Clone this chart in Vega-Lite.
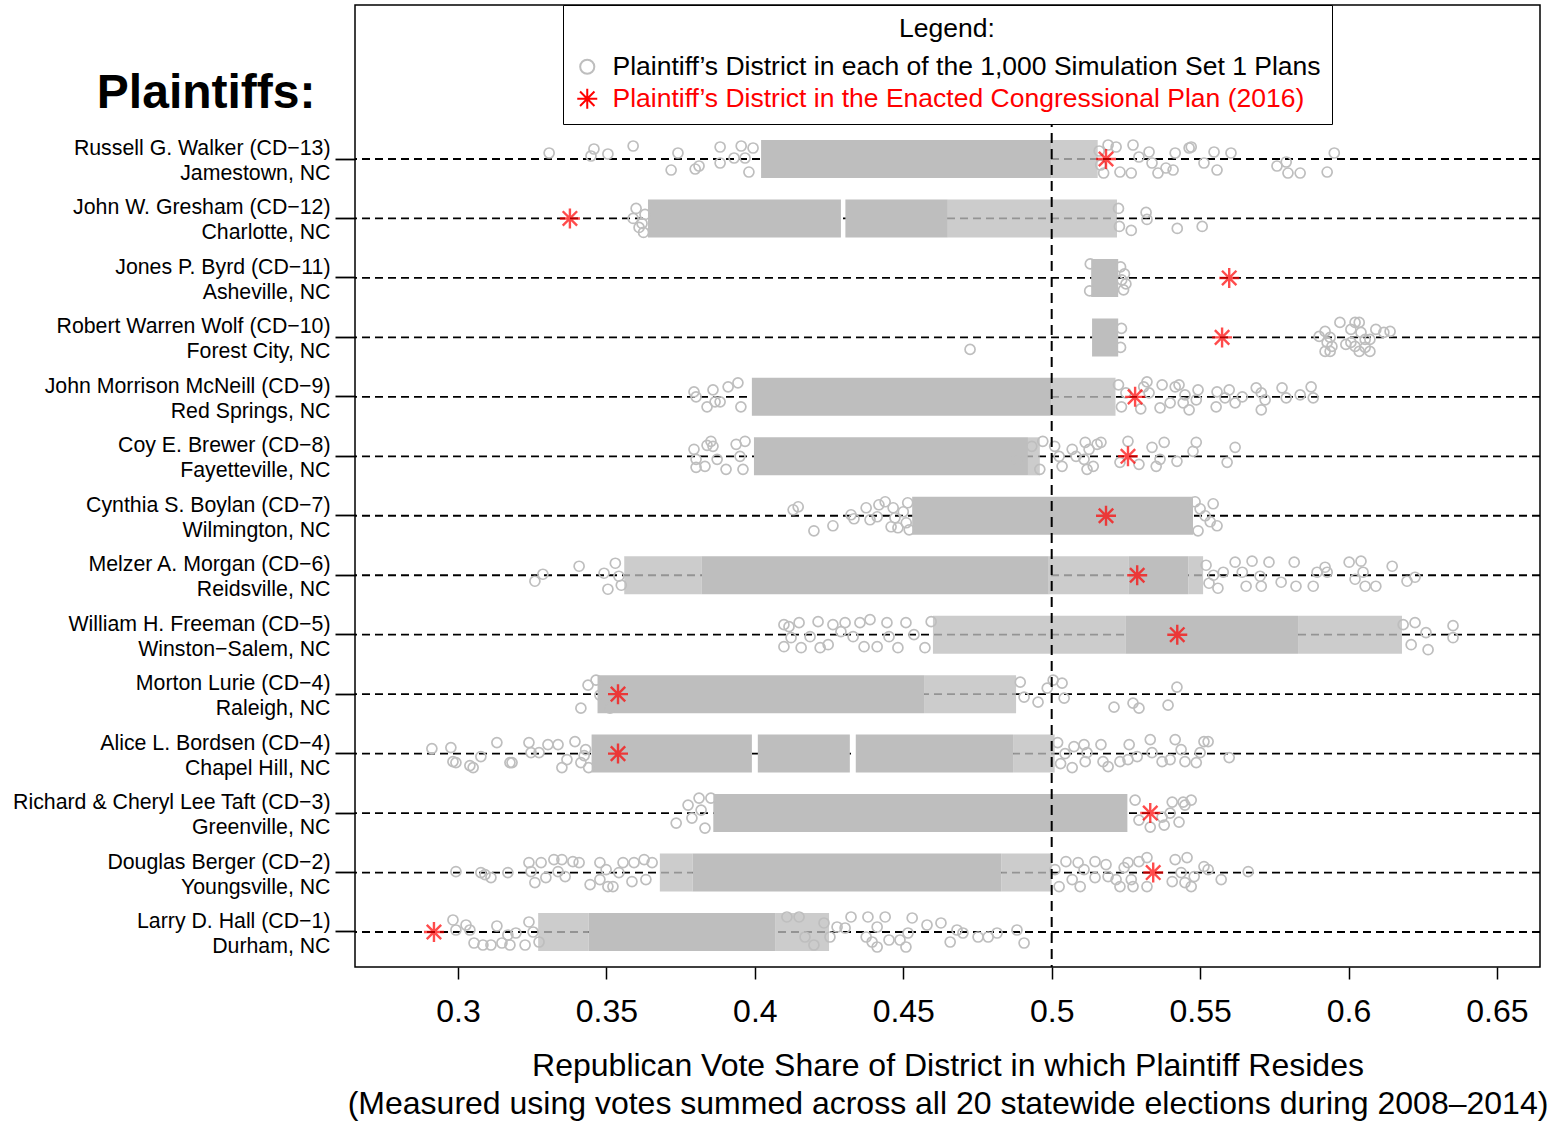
{
"$schema": "https://vega.github.io/schema/vega-lite/v6.json",
"width": 1185, "height": 962,
"autosize": {"type": "none"},
"padding": {"left": 355, "top": 5, "right": 11, "bottom": 155},
"background": "white",
"config": {
  "font": "Liberation Sans",
  "view": {"stroke": "black", "strokeWidth": 1.5},
  "axisY": {"domain": false, "tickSize": 20, "tickWidth": 1.8, "tickColor": "black", "labelFontSize": 21.3, "labelLineHeight": 25, "labelPadding": 5, "labelOffset": -10, "labelColor": "black", "labelOverlap": false, "labelBound": false, "labelLimit": 0, "grid": false},
  "axisX": {"domain": false, "tickSize": 12, "tickWidth": 1.5, "tickColor": "black", "labelFontSize": 32, "labelPadding": 17, "labelColor": "black", "titleFontSize": 32, "titleFontWeight": "normal", "titleColor": "black", "titleLineHeight": 38, "titlePadding": 23, "grid": false, "labelOverlap": false}
},
"datasets": {
"rows": [{"k":1},{"k":2},{"k":3},{"k":4},{"k":5},{"k":6},{"k":7},{"k":8},{"k":9},{"k":10},{"k":11},{"k":12},{"k":13},{"k":14}],
"bands": [
{"k":1,"a":0.4021,"b":0.4998,"d":"D"},{"k":1,"a":0.4998,"b":0.5155,"d":"M"},
{"k":2,"a":0.3640,"b":0.4290,"d":"D"},{"k":2,"a":0.4305,"b":0.4650,"d":"D"},{"k":2,"a":0.4650,"b":0.5220,"d":"M"},
{"k":3,"a":0.5133,"b":0.5224,"d":"D"},
{"k":4,"a":0.5136,"b":0.5224,"d":"D"},
{"k":5,"a":0.3990,"b":0.4998,"d":"D"},{"k":5,"a":0.4998,"b":0.5215,"d":"M"},
{"k":6,"a":0.3997,"b":0.4920,"d":"D"},{"k":6,"a":0.4920,"b":0.4960,"d":"M"},
{"k":7,"a":0.4530,"b":0.5476,"d":"D"},
{"k":8,"a":0.3560,"b":0.3820,"d":"M"},{"k":8,"a":0.3820,"b":0.4990,"d":"D"},{"k":8,"a":0.4990,"b":0.5260,"d":"M"},{"k":8,"a":0.5260,"b":0.5460,"d":"D"},{"k":8,"a":0.5460,"b":0.5510,"d":"M"},
{"k":9,"a":0.4600,"b":0.5250,"d":"M"},{"k":9,"a":0.5250,"b":0.5830,"d":"D"},{"k":9,"a":0.5830,"b":0.6180,"d":"M"},
{"k":10,"a":0.3470,"b":0.4570,"d":"D"},{"k":10,"a":0.4570,"b":0.4880,"d":"M"},
{"k":11,"a":0.3450,"b":0.3990,"d":"D"},{"k":11,"a":0.4010,"b":0.4320,"d":"D"},{"k":11,"a":0.4340,"b":0.4870,"d":"D"},{"k":11,"a":0.4870,"b":0.5010,"d":"M"},
{"k":12,"a":0.3860,"b":0.5255,"d":"D"},
{"k":13,"a":0.3680,"b":0.3790,"d":"M"},{"k":13,"a":0.3790,"b":0.4830,"d":"D"},{"k":13,"a":0.4830,"b":0.5000,"d":"M"},
{"k":14,"a":0.3270,"b":0.3440,"d":"M"},{"k":14,"a":0.3440,"b":0.4070,"d":"D"},{"k":14,"a":0.4070,"b":0.4250,"d":"M"}
],
"enacted": [
{"k":1,"v":0.5183},{"k":2,"v":0.3377},{"k":3,"v":0.5598},{"k":4,"v":0.5574},{"k":5,"v":0.5281},{"k":6,"v":0.5257},{"k":7,"v":0.5183},{"k":8,"v":0.5288},{"k":9,"v":0.5423},{"k":10,"v":0.3539},{"k":11,"v":0.3539},{"k":12,"v":0.5332},{"k":13,"v":0.5342},{"k":14,"v":0.2919}
],
"pts": [
{"k":1,"v":0.3307,"j":-0.3},{"k":1,"v":0.3448,"j":-0.15},{"k":1,"v":0.3458,"j":-0.5},{"k":1,"v":0.3505,"j":-0.25},{"k":1,"v":0.3590,"j":-0.65},{"k":1,"v":0.3741,"j":-0.3},{"k":1,"v":0.3718,"j":0.55},{"k":1,"v":0.3799,"j":0.5},{"k":1,"v":0.3812,"j":0.35},{"k":1,"v":0.3883,"j":-0.6},{"k":1,"v":0.3883,"j":0.2},{"k":1,"v":0.3930,"j":-0.05},{"k":1,"v":0.3954,"j":-0.65},{"k":1,"v":0.3967,"j":-0.05},{"k":1,"v":0.3994,"j":-0.55},{"k":1,"v":0.3980,"j":0.65},
{"k":1,"v":0.5160,"j":-0.4},{"k":1,"v":0.5165,"j":0.3},{"k":1,"v":0.5175,"j":0.7},{"k":1,"v":0.5190,"j":-0.7},
{"k":1,"v":0.5217,"j":-0.6},{"k":1,"v":0.5230,"j":0.65},{"k":1,"v":0.5268,"j":0.7},{"k":1,"v":0.5274,"j":-0.7},{"k":1,"v":0.5294,"j":-0.1},{"k":1,"v":0.5328,"j":-0.35},{"k":1,"v":0.5338,"j":0.2},{"k":1,"v":0.5358,"j":0.7},{"k":1,"v":0.5385,"j":0.45},{"k":1,"v":0.5409,"j":0.55},{"k":1,"v":0.5416,"j":-0.3},{"k":1,"v":0.5463,"j":-0.55},{"k":1,"v":0.5470,"j":-0.6},{"k":1,"v":0.5513,"j":0.2},{"k":1,"v":0.5547,"j":-0.35},{"k":1,"v":0.5557,"j":0.55},{"k":1,"v":0.5604,"j":-0.3},{"k":1,"v":0.5759,"j":0.35},{"k":1,"v":0.5790,"j":0.15},{"k":1,"v":0.5796,"j":0.7},{"k":1,"v":0.5837,"j":0.7},{"k":1,"v":0.5928,"j":0.65},{"k":1,"v":0.5952,"j":-0.3},
{"k":2,"v":0.3590,"j":0.0},{"k":2,"v":0.3600,"j":-0.5},{"k":2,"v":0.3610,"j":0.45},{"k":2,"v":0.3625,"j":0.7},{"k":2,"v":0.3630,"j":-0.2},{"k":2,"v":0.3620,"j":0.25},
{"k":2,"v":0.5225,"j":-0.5},{"k":2,"v":0.5228,"j":0.4},{"k":2,"v":0.5268,"j":0.6},{"k":2,"v":0.5318,"j":-0.3},{"k":2,"v":0.5321,"j":0.05},{"k":2,"v":0.5423,"j":0.5},{"k":2,"v":0.5507,"j":0.4},
{"k":3,"v":0.5232,"j":-0.55},{"k":3,"v":0.5245,"j":-0.2},{"k":3,"v":0.5250,"j":0.3},{"k":3,"v":0.5242,"j":0.6},{"k":3,"v":0.5236,"j":0.1},{"k":3,"v":0.5130,"j":-0.7},{"k":3,"v":0.5128,"j":0.65},
{"k":4,"v":0.4725,"j":0.6},{"k":4,"v":0.5235,"j":-0.45},{"k":4,"v":0.5232,"j":0.5},
{"k":4,"v":0.5901,"j":-0.05},{"k":4,"v":0.5921,"j":-0.3},{"k":4,"v":0.5928,"j":0.25},{"k":4,"v":0.5921,"j":0.7},{"k":4,"v":0.5938,"j":0.7},{"k":4,"v":0.5944,"j":0.45},{"k":4,"v":0.5938,"j":0},{"k":4,"v":0.5971,"j":-0.75},{"k":4,"v":0.5991,"j":0.35},{"k":4,"v":0.6008,"j":-0.4},{"k":4,"v":0.6022,"j":-0.75},{"k":4,"v":0.6036,"j":-0.75},{"k":4,"v":0.6042,"j":-0.25},{"k":4,"v":0.6022,"j":0.45},{"k":4,"v":0.6056,"j":0.5},{"k":4,"v":0.6072,"j":0.1},{"k":4,"v":0.6072,"j":0.7},{"k":4,"v":0.6092,"j":-0.4},{"k":4,"v":0.6119,"j":-0.25},{"k":4,"v":0.6140,"j":-0.3},{"k":4,"v":0.6036,"j":0.7},{"k":4,"v":0.6008,"j":0.25},{"k":4,"v":0.6056,"j":0.1},
{"k":5,"v":0.3795,"j":-0.25},{"k":5,"v":0.3802,"j":0},{"k":5,"v":0.3839,"j":0.5},{"k":5,"v":0.3859,"j":-0.35},{"k":5,"v":0.3866,"j":0.25},{"k":5,"v":0.3883,"j":0.25},{"k":5,"v":0.3910,"j":-0.5},{"k":5,"v":0.3943,"j":-0.7},{"k":5,"v":0.3953,"j":0.5},
{"k":5,"v":0.5225,"j":-0.6},{"k":5,"v":0.5235,"j":0.5},{"k":5,"v":0.5250,"j":-0.2},{"k":5,"v":0.5300,"j":0.6},{"k":5,"v":0.5310,"j":-0.5},
{"k":5,"v":0.5321,"j":-0.75},{"k":5,"v":0.5328,"j":-0.2},{"k":5,"v":0.5365,"j":0.55},{"k":5,"v":0.5372,"j":-0.6},{"k":5,"v":0.5399,"j":0.3},{"k":5,"v":0.5416,"j":-0.5},{"k":5,"v":0.5429,"j":-0.6},{"k":5,"v":0.5443,"j":0.3},{"k":5,"v":0.5449,"j":-0.1},{"k":5,"v":0.5463,"j":0.65},{"k":5,"v":0.5487,"j":0.15},{"k":5,"v":0.5493,"j":-0.35},{"k":5,"v":0.5554,"j":0.5},{"k":5,"v":0.5557,"j":-0.25},{"k":5,"v":0.5584,"j":0.05},{"k":5,"v":0.5598,"j":-0.35},{"k":5,"v":0.5618,"j":0.3},{"k":5,"v":0.5642,"j":0},{"k":5,"v":0.5689,"j":-0.45},{"k":5,"v":0.5706,"j":-0.2},{"k":5,"v":0.5719,"j":0.15},{"k":5,"v":0.5706,"j":0.65},{"k":5,"v":0.5776,"j":-0.45},{"k":5,"v":0.5790,"j":0.05},{"k":5,"v":0.5837,"j":-0.1},{"k":5,"v":0.5874,"j":-0.5},{"k":5,"v":0.5881,"j":0.05},
{"k":6,"v":0.3795,"j":-0.35},{"k":6,"v":0.3802,"j":0.15},{"k":6,"v":0.3802,"j":0.55},{"k":6,"v":0.3832,"j":0.5},{"k":6,"v":0.3839,"j":-0.55},{"k":6,"v":0.3852,"j":-0.75},{"k":6,"v":0.3859,"j":-0.5},{"k":6,"v":0.3873,"j":0.15},{"k":6,"v":0.3903,"j":0.65},{"k":6,"v":0.3937,"j":-0.6},{"k":6,"v":0.3950,"j":0},{"k":6,"v":0.3960,"j":0.65},{"k":6,"v":0.3967,"j":-0.75},
{"k":6,"v":0.4883,"j":0.15},{"k":6,"v":0.4933,"j":-0.5},{"k":6,"v":0.4970,"j":-0.75},{"k":6,"v":0.4960,"j":0.65},{"k":6,"v":0.5010,"j":-0.5},{"k":6,"v":0.5025,"j":0},{"k":6,"v":0.5035,"j":0.5},{"k":6,"v":0.5069,"j":-0.35},{"k":6,"v":0.5082,"j":0},{"k":6,"v":0.5113,"j":-0.7},{"k":6,"v":0.5126,"j":-0.35},{"k":6,"v":0.5109,"j":0.15},{"k":6,"v":0.5119,"j":0.65},{"k":6,"v":0.5140,"j":0.5},{"k":6,"v":0.5153,"j":-0.6},{"k":6,"v":0.5166,"j":-0.7},{"k":6,"v":0.5257,"j":-0.75},{"k":6,"v":0.5230,"j":0.3},{"k":6,"v":0.5294,"j":0.4},{"k":6,"v":0.5338,"j":-0.45},{"k":6,"v":0.5352,"j":0.5},{"k":6,"v":0.5365,"j":0.15},{"k":6,"v":0.5379,"j":-0.7},{"k":6,"v":0.5422,"j":0.25},{"k":6,"v":0.5476,"j":-0.25},{"k":6,"v":0.5487,"j":-0.7},{"k":6,"v":0.5591,"j":0.3},{"k":6,"v":0.5618,"j":-0.45},
{"k":7,"v":0.4129,"j":-0.3},{"k":7,"v":0.4146,"j":-0.45},{"k":7,"v":0.4199,"j":0.75},{"k":7,"v":0.4263,"j":0.5},{"k":7,"v":0.4324,"j":-0.05},{"k":7,"v":0.4334,"j":0.15},{"k":7,"v":0.4375,"j":-0.4},{"k":7,"v":0.4388,"j":0.2},{"k":7,"v":0.4412,"j":0.05},{"k":7,"v":0.4418,"j":-0.55},{"k":7,"v":0.4439,"j":-0.7},{"k":7,"v":0.4466,"j":-0.4},{"k":7,"v":0.4472,"j":0.1},{"k":7,"v":0.4459,"j":0.55},{"k":7,"v":0.4482,"j":0.6},{"k":7,"v":0.4500,"j":-0.2},{"k":7,"v":0.4510,"j":0.35},{"k":7,"v":0.4515,"j":-0.65},{"k":7,"v":0.4520,"j":0.7},
{"k":7,"v":0.5500,"j":-0.35},{"k":7,"v":0.5517,"j":0},{"k":7,"v":0.5534,"j":0.3},{"k":7,"v":0.5544,"j":-0.6},{"k":7,"v":0.5557,"j":0.5},{"k":7,"v":0.5493,"j":0.75},{"k":7,"v":0.5483,"j":-0.7},
{"k":8,"v":0.3259,"j":0.3},{"k":8,"v":0.3286,"j":-0.05},{"k":8,"v":0.3408,"j":-0.45},{"k":8,"v":0.3492,"j":-0.1},{"k":8,"v":0.3505,"j":0.7},{"k":8,"v":0.3542,"j":0.05},{"k":8,"v":0.3530,"j":-0.6},{"k":8,"v":0.3550,"j":0.5},
{"k":8,"v":0.5520,"j":-0.5},{"k":8,"v":0.5530,"j":0.4},{"k":8,"v":0.5545,"j":0.0},{"k":8,"v":0.5560,"j":0.65},
{"k":8,"v":0.5578,"j":-0.15},{"k":8,"v":0.5618,"j":-0.65},{"k":8,"v":0.5642,"j":-0.15},{"k":8,"v":0.5655,"j":0.55},{"k":8,"v":0.5675,"j":-0.7},{"k":8,"v":0.5702,"j":0.05},{"k":8,"v":0.5706,"j":0.55},{"k":8,"v":0.5732,"j":-0.65},{"k":8,"v":0.5773,"j":0.35},{"k":8,"v":0.5817,"j":-0.65},{"k":8,"v":0.5823,"j":0.55},{"k":8,"v":0.5881,"j":0.55},{"k":8,"v":0.5894,"j":-0.15},{"k":8,"v":0.5921,"j":-0.4},{"k":8,"v":0.5928,"j":-0.15},{"k":8,"v":0.6002,"j":-0.65},{"k":8,"v":0.6042,"j":-0.7},{"k":8,"v":0.6022,"j":0.2},{"k":8,"v":0.6049,"j":-0.15},{"k":8,"v":0.6056,"j":0.55},{"k":8,"v":0.6092,"j":0.55},{"k":8,"v":0.6147,"j":-0.45},{"k":8,"v":0.6197,"j":0.3},{"k":8,"v":0.6224,"j":0.1},
{"k":9,"v":0.4098,"j":-0.5},{"k":9,"v":0.4115,"j":-0.4},{"k":9,"v":0.4149,"j":-0.6},{"k":9,"v":0.4098,"j":0.6},{"k":9,"v":0.4122,"j":0.15},{"k":9,"v":0.4156,"j":0.65},{"k":9,"v":0.4186,"j":0.1},{"k":9,"v":0.4213,"j":-0.65},{"k":9,"v":0.4220,"j":0.65},{"k":9,"v":0.4247,"j":0.5},{"k":9,"v":0.4263,"j":-0.5},{"k":9,"v":0.4290,"j":-0.15},{"k":9,"v":0.4304,"j":-0.6},{"k":9,"v":0.4331,"j":0.1},{"k":9,"v":0.4354,"j":-0.6},{"k":9,"v":0.4368,"j":0.6},{"k":9,"v":0.4388,"j":-0.75},{"k":9,"v":0.4412,"j":0.6},{"k":9,"v":0.4445,"j":-0.6},{"k":9,"v":0.4452,"j":0.1},{"k":9,"v":0.4482,"j":0.65},{"k":9,"v":0.4509,"j":-0.6},{"k":9,"v":0.4536,"j":0},{"k":9,"v":0.4573,"j":0.65},{"k":9,"v":0.4594,"j":-0.65},
{"k":9,"v":0.6184,"j":-0.5},{"k":9,"v":0.6211,"j":0.5},{"k":9,"v":0.6224,"j":-0.6},{"k":9,"v":0.6261,"j":-0.1},{"k":9,"v":0.6268,"j":0.75},{"k":9,"v":0.6352,"j":-0.45},{"k":9,"v":0.6352,"j":0.15},
{"k":10,"v":0.3414,"j":0.7},{"k":10,"v":0.3438,"j":-0.45},{"k":10,"v":0.3465,"j":-0.7},{"k":10,"v":0.3478,"j":0.05},{"k":10,"v":0.3512,"j":0.7},
{"k":10,"v":0.4894,"j":-0.6},{"k":10,"v":0.4907,"j":0.15},{"k":10,"v":0.4954,"j":0.4},{"k":10,"v":0.4985,"j":-0.3},{"k":10,"v":0.5005,"j":-0.7},{"k":10,"v":0.5035,"j":-0.55},{"k":10,"v":0.5042,"j":0.2},{"k":10,"v":0.5210,"j":0.65},{"k":10,"v":0.5274,"j":0.45},{"k":10,"v":0.5294,"j":0.7},{"k":10,"v":0.5392,"j":0.55},{"k":10,"v":0.5422,"j":-0.35},
{"k":11,"v":0.2912,"j":-0.25},{"k":11,"v":0.2976,"j":-0.3},{"k":11,"v":0.2983,"j":0.4},{"k":11,"v":0.2993,"j":0.45},{"k":11,"v":0.3040,"j":0.6},{"k":11,"v":0.3051,"j":0.7},{"k":11,"v":0.3077,"j":0.15},{"k":11,"v":0.3131,"j":-0.55},{"k":11,"v":0.3175,"j":0.45},{"k":11,"v":0.3182,"j":0.45},{"k":11,"v":0.3239,"j":-0.55},{"k":11,"v":0.3246,"j":-0.05},{"k":11,"v":0.3273,"j":-0.05},{"k":11,"v":0.3303,"j":-0.45},{"k":11,"v":0.3337,"j":-0.45},{"k":11,"v":0.3350,"j":0.7},{"k":11,"v":0.3394,"j":-0.6},{"k":11,"v":0.3367,"j":0.3},{"k":11,"v":0.3414,"j":0.45},{"k":11,"v":0.3430,"j":-0.2},{"k":11,"v":0.3440,"j":0.7},{"k":11,"v":0.3425,"j":0.1},
{"k":11,"v":0.5020,"j":-0.55},{"k":11,"v":0.5030,"j":0.5},{"k":11,"v":0.5045,"j":0.0},
{"k":11,"v":0.5069,"j":0.7},{"k":11,"v":0.5075,"j":-0.35},{"k":11,"v":0.5109,"j":-0.45},{"k":11,"v":0.5113,"j":0.4},{"k":11,"v":0.5119,"j":-0.05},{"k":11,"v":0.5166,"j":-0.45},{"k":11,"v":0.5173,"j":0.4},{"k":11,"v":0.5190,"j":0.65},{"k":11,"v":0.5230,"j":0.4},{"k":11,"v":0.5257,"j":0.3},{"k":11,"v":0.5261,"j":-0.45},{"k":11,"v":0.5288,"j":0.15},{"k":11,"v":0.5332,"j":-0.7},{"k":11,"v":0.5338,"j":-0.05},{"k":11,"v":0.5372,"j":0.4},{"k":11,"v":0.5399,"j":0.3},{"k":11,"v":0.5416,"j":-0.7},{"k":11,"v":0.5436,"j":-0.2},{"k":11,"v":0.5449,"j":0.4},{"k":11,"v":0.5487,"j":0.45},{"k":11,"v":0.5500,"j":-0.05},{"k":11,"v":0.5513,"j":-0.6},{"k":11,"v":0.5527,"j":-0.6},{"k":11,"v":0.5598,"j":0.2},
{"k":12,"v":0.3735,"j":0.5},{"k":12,"v":0.3775,"j":-0.4},{"k":12,"v":0.3788,"j":0.25},{"k":12,"v":0.3812,"j":-0.75},{"k":12,"v":0.3819,"j":-0.15},{"k":12,"v":0.3832,"j":0.75},{"k":12,"v":0.3852,"j":-0.75},
{"k":12,"v":0.5281,"j":-0.65},{"k":12,"v":0.5294,"j":0.35},{"k":12,"v":0.5332,"j":0.7},{"k":12,"v":0.5372,"j":0.2},{"k":12,"v":0.5379,"j":0.6},{"k":12,"v":0.5399,"j":0},{"k":12,"v":0.5406,"j":-0.55},{"k":12,"v":0.5429,"j":0.45},{"k":12,"v":0.5443,"j":-0.55},{"k":12,"v":0.5449,"j":-0.4},{"k":12,"v":0.5470,"j":-0.65},
{"k":13,"v":0.2993,"j":-0.05},{"k":13,"v":0.3077,"j":0},{"k":13,"v":0.3091,"j":0.1},{"k":13,"v":0.3111,"j":0.25},{"k":13,"v":0.3168,"j":0},{"k":13,"v":0.3239,"j":-0.5},{"k":13,"v":0.3246,"j":-0.05},{"k":13,"v":0.3259,"j":0.5},{"k":13,"v":0.3280,"j":-0.5},{"k":13,"v":0.3296,"j":0.25},{"k":13,"v":0.3323,"j":-0.65},{"k":13,"v":0.3350,"j":-0.65},{"k":13,"v":0.3337,"j":-0.05},{"k":13,"v":0.3361,"j":0.2},{"k":13,"v":0.3387,"j":-0.55},{"k":13,"v":0.3408,"j":-0.5},{"k":13,"v":0.3445,"j":0.6},{"k":13,"v":0.3478,"j":-0.5},{"k":13,"v":0.3478,"j":0.35},{"k":13,"v":0.3499,"j":-0.15},{"k":13,"v":0.3505,"j":0.7},{"k":13,"v":0.3522,"j":0.7},{"k":13,"v":0.3556,"j":-0.5},{"k":13,"v":0.3542,"j":0},{"k":13,"v":0.3586,"j":0.45},{"k":13,"v":0.3593,"j":-0.5},{"k":13,"v":0.3627,"j":-0.65},{"k":13,"v":0.3633,"j":0.35},{"k":13,"v":0.3654,"j":-0.5},
{"k":13,"v":0.5011,"j":-0.15},{"k":13,"v":0.5025,"j":0.7},{"k":13,"v":0.5048,"j":-0.55},{"k":13,"v":0.5069,"j":0.35},{"k":13,"v":0.5089,"j":-0.5},{"k":13,"v":0.5096,"j":0.7},{"k":13,"v":0.5109,"j":-0.15},{"k":13,"v":0.5146,"j":-0.55},{"k":13,"v":0.5146,"j":0.25},{"k":13,"v":0.5183,"j":-0.4},{"k":13,"v":0.5190,"j":0.2},{"k":13,"v":0.5217,"j":0.35},{"k":13,"v":0.5230,"j":0.7},{"k":13,"v":0.5244,"j":-0.25},{"k":13,"v":0.5257,"j":-0.5},{"k":13,"v":0.5268,"j":0.35},{"k":13,"v":0.5274,"j":0.7},{"k":13,"v":0.5294,"j":-0.55},{"k":13,"v":0.5321,"j":-0.75},{"k":13,"v":0.5321,"j":0.7},{"k":13,"v":0.5406,"j":0.45},{"k":13,"v":0.5416,"j":-0.65},{"k":13,"v":0.5436,"j":0},{"k":13,"v":0.5456,"j":-0.75},{"k":13,"v":0.5449,"j":0.5},{"k":13,"v":0.5470,"j":0.7},{"k":13,"v":0.5480,"j":0.2},{"k":13,"v":0.5513,"j":-0.3},{"k":13,"v":0.5527,"j":-0.15},{"k":13,"v":0.5571,"j":0.35},{"k":13,"v":0.5662,"j":-0.05},
{"k":14,"v":0.2983,"j":-0.6},{"k":14,"v":0.2993,"j":-0.1},{"k":14,"v":0.3027,"j":-0.35},{"k":14,"v":0.3040,"j":-0.1},{"k":14,"v":0.3054,"j":0.55},{"k":14,"v":0.3084,"j":0.65},{"k":14,"v":0.3111,"j":0.65},{"k":14,"v":0.3131,"j":-0.3},{"k":14,"v":0.3148,"j":0.55},{"k":14,"v":0.3168,"j":0.15},{"k":14,"v":0.3175,"j":0.65},{"k":14,"v":0.3195,"j":0.05},{"k":14,"v":0.3226,"j":0.65},{"k":14,"v":0.3239,"j":-0.5},{"k":14,"v":0.3253,"j":0},{"k":14,"v":0.3273,"j":0.5},
{"k":14,"v":0.4108,"j":-0.75},{"k":14,"v":0.4149,"j":-0.75},{"k":14,"v":0.4169,"j":0.25},{"k":14,"v":0.4199,"j":0.65},{"k":14,"v":0.4233,"j":-0.45},{"k":14,"v":0.4253,"j":0.25},{"k":14,"v":0.4277,"j":-0.25},{"k":14,"v":0.4304,"j":-0.2},{"k":14,"v":0.4324,"j":-0.75},{"k":14,"v":0.4375,"j":0.25},{"k":14,"v":0.4381,"j":-0.75},{"k":14,"v":0.4395,"j":0.5},{"k":14,"v":0.4412,"j":-0.25},{"k":14,"v":0.4412,"j":0.75},{"k":14,"v":0.4439,"j":-0.75},{"k":14,"v":0.4452,"j":0.4},{"k":14,"v":0.4489,"j":0.4},{"k":14,"v":0.4509,"j":0.75},{"k":14,"v":0.4530,"j":-0.7},{"k":14,"v":0.4516,"j":0.05},{"k":14,"v":0.4580,"j":-0.35},{"k":14,"v":0.4627,"j":-0.45},{"k":14,"v":0.4658,"j":0.5},{"k":14,"v":0.4681,"j":-0.1},{"k":14,"v":0.4701,"j":0.05},{"k":14,"v":0.4752,"j":0.25},{"k":14,"v":0.4786,"j":0.25},{"k":14,"v":0.4816,"j":0.05},{"k":14,"v":0.4883,"j":-0.1},{"k":14,"v":0.4907,"j":0.55}
]
},
"layer": [
{
  "data": {"name": "rows"},
  "mark": {"type": "rule", "strokeDash": [8, 5], "strokeWidth": 1.8, "color": "black"},
  "encoding": {
    "y": {"field": "k", "type": "nominal",
      "scale": {"type": "band", "domain": [1,2,3,4,5,6,7,8,9,10,11,12,13,14], "paddingInner": 0.327, "paddingOuter": 0, "range": [134, 947]},
      "axis": {
        "title": "Plaintiffs:", "titleAngle": 0, "titleAlign": "right", "titleBaseline": "alphabetic", "titleX": -40, "titleY": 102, "titleFontSize": 48, "titleFontWeight": "bold", "titleColor": "black",
        "labelExpr": "[['Russell G. Walker (CD−13)','Jamestown, NC'],['John W. Gresham (CD−12)','Charlotte, NC'],['Jones P. Byrd (CD−11)','Asheville, NC'],['Robert Warren Wolf (CD−10)','Forest City, NC'],['John Morrison McNeill (CD−9)','Red Springs, NC'],['Coy E. Brewer (CD−8)','Fayetteville, NC'],['Cynthia S. Boylan (CD−7)','Wilmington, NC'],['Melzer A. Morgan (CD−6)','Reidsville, NC'],['William H. Freeman (CD−5)','Winston−Salem, NC'],['Morton Lurie (CD−4)','Raleigh, NC'],['Alice L. Bordsen (CD−4)','Chapel Hill, NC'],['Richard & Cheryl Lee Taft (CD−3)','Greenville, NC'],['Douglas Berger (CD−2)','Youngsville, NC'],['Larry D. Hall (CD−1)','Durham, NC']][datum.value-1]"
      }
    }
  }
},
{
  "data": {"name": "bands"},
  "mark": {"type": "rule", "color": "#BEBEBE", "strokeWidth": 38, "strokeCap": "butt"},
  "encoding": {
    "y": {"field": "k", "type": "nominal"},
    "x": {"field": "a", "type": "quantitative",
      "scale": {"domain": [0.2653, 0.6645], "nice": false, "zero": false},
      "axis": {"values": [0.3,0.35,0.4,0.45,0.5,0.55,0.6,0.65], "format": "~g",
        "title": ["Republican Vote Share of District in which Plaintiff Resides", "(Measured using votes summed across all 20 statewide elections during 2008–2014)"]}},
    "x2": {"field": "b"},
    "opacity": {"field": "d", "type": "nominal", "scale": {"domain": ["D", "M"], "range": [1, 0.78]}, "legend": null}
  }
},
{
  "data": {"name": "pts"},
  "mark": {"type": "point", "filled": false, "size": 100, "strokeWidth": 1.7, "opacity": 1},
  "encoding": {
    "y": {"field": "k", "type": "nominal"},
    "yOffset": {"field": "j", "type": "quantitative", "scale": {"domain": [-1, 1]}},
    "x": {"field": "v", "type": "quantitative"},
    "color": {"datum": "s", "type": "nominal", "scale": {"domain": ["s", "e"], "range": ["#BEBEBE", "#FF0000"]},
      "legend": {"orient": "none", "legendX": 208, "legendY": 0, "title": "Legend:", "titleFontSize": 26.5, "titleFontWeight": "normal", "titleAnchor": "middle", "titleColor": "black", "titlePadding": 11,
        "labelFontSize": 26.5, "labelColor": {"expr": "datum.value == 'e' ? '#FF0000' : '#000000'"}, "labelLimit": 0, "labelOffset": 12,
        "labelExpr": "datum.value == 's' ? 'Plaintiff’s District in each of the 1,000 Simulation Set 1 Plans' : 'Plaintiff’s District in the Enacted Congressional Plan (2016)'",
        "symbolSize": {"expr": "datum.value == 'e' ? 400 : 200"}, "symbolStrokeWidth": 2, "rowPadding": 4, "padding": 11, "strokeColor": "black", "fillColor": "white"}},
    "shape": {"datum": "s", "type": "nominal", "scale": {"domain": ["s", "e"], "range": ["circle", "M0,-1L0,1M-1,0L1,0M-0.72,-0.72L0.72,0.72M-0.72,0.72L0.72,-0.72"]}}
  }
},
{
  "data": {"values": [{}]},
  "mark": {"type": "rule", "strokeDash": [10, 6], "strokeWidth": 2, "color": "black"},
  "encoding": {"x": {"datum": 0.5, "type": "quantitative"}}
},
{
  "data": {"name": "enacted"},
  "mark": {"type": "point", "filled": false, "size": 400, "strokeWidth": 2.4},
  "encoding": {
    "y": {"field": "k", "type": "nominal"},
    "x": {"field": "v", "type": "quantitative"},
    "color": {"datum": "e", "type": "nominal"},
    "shape": {"datum": "e", "type": "nominal"}
  }
}
]
}
